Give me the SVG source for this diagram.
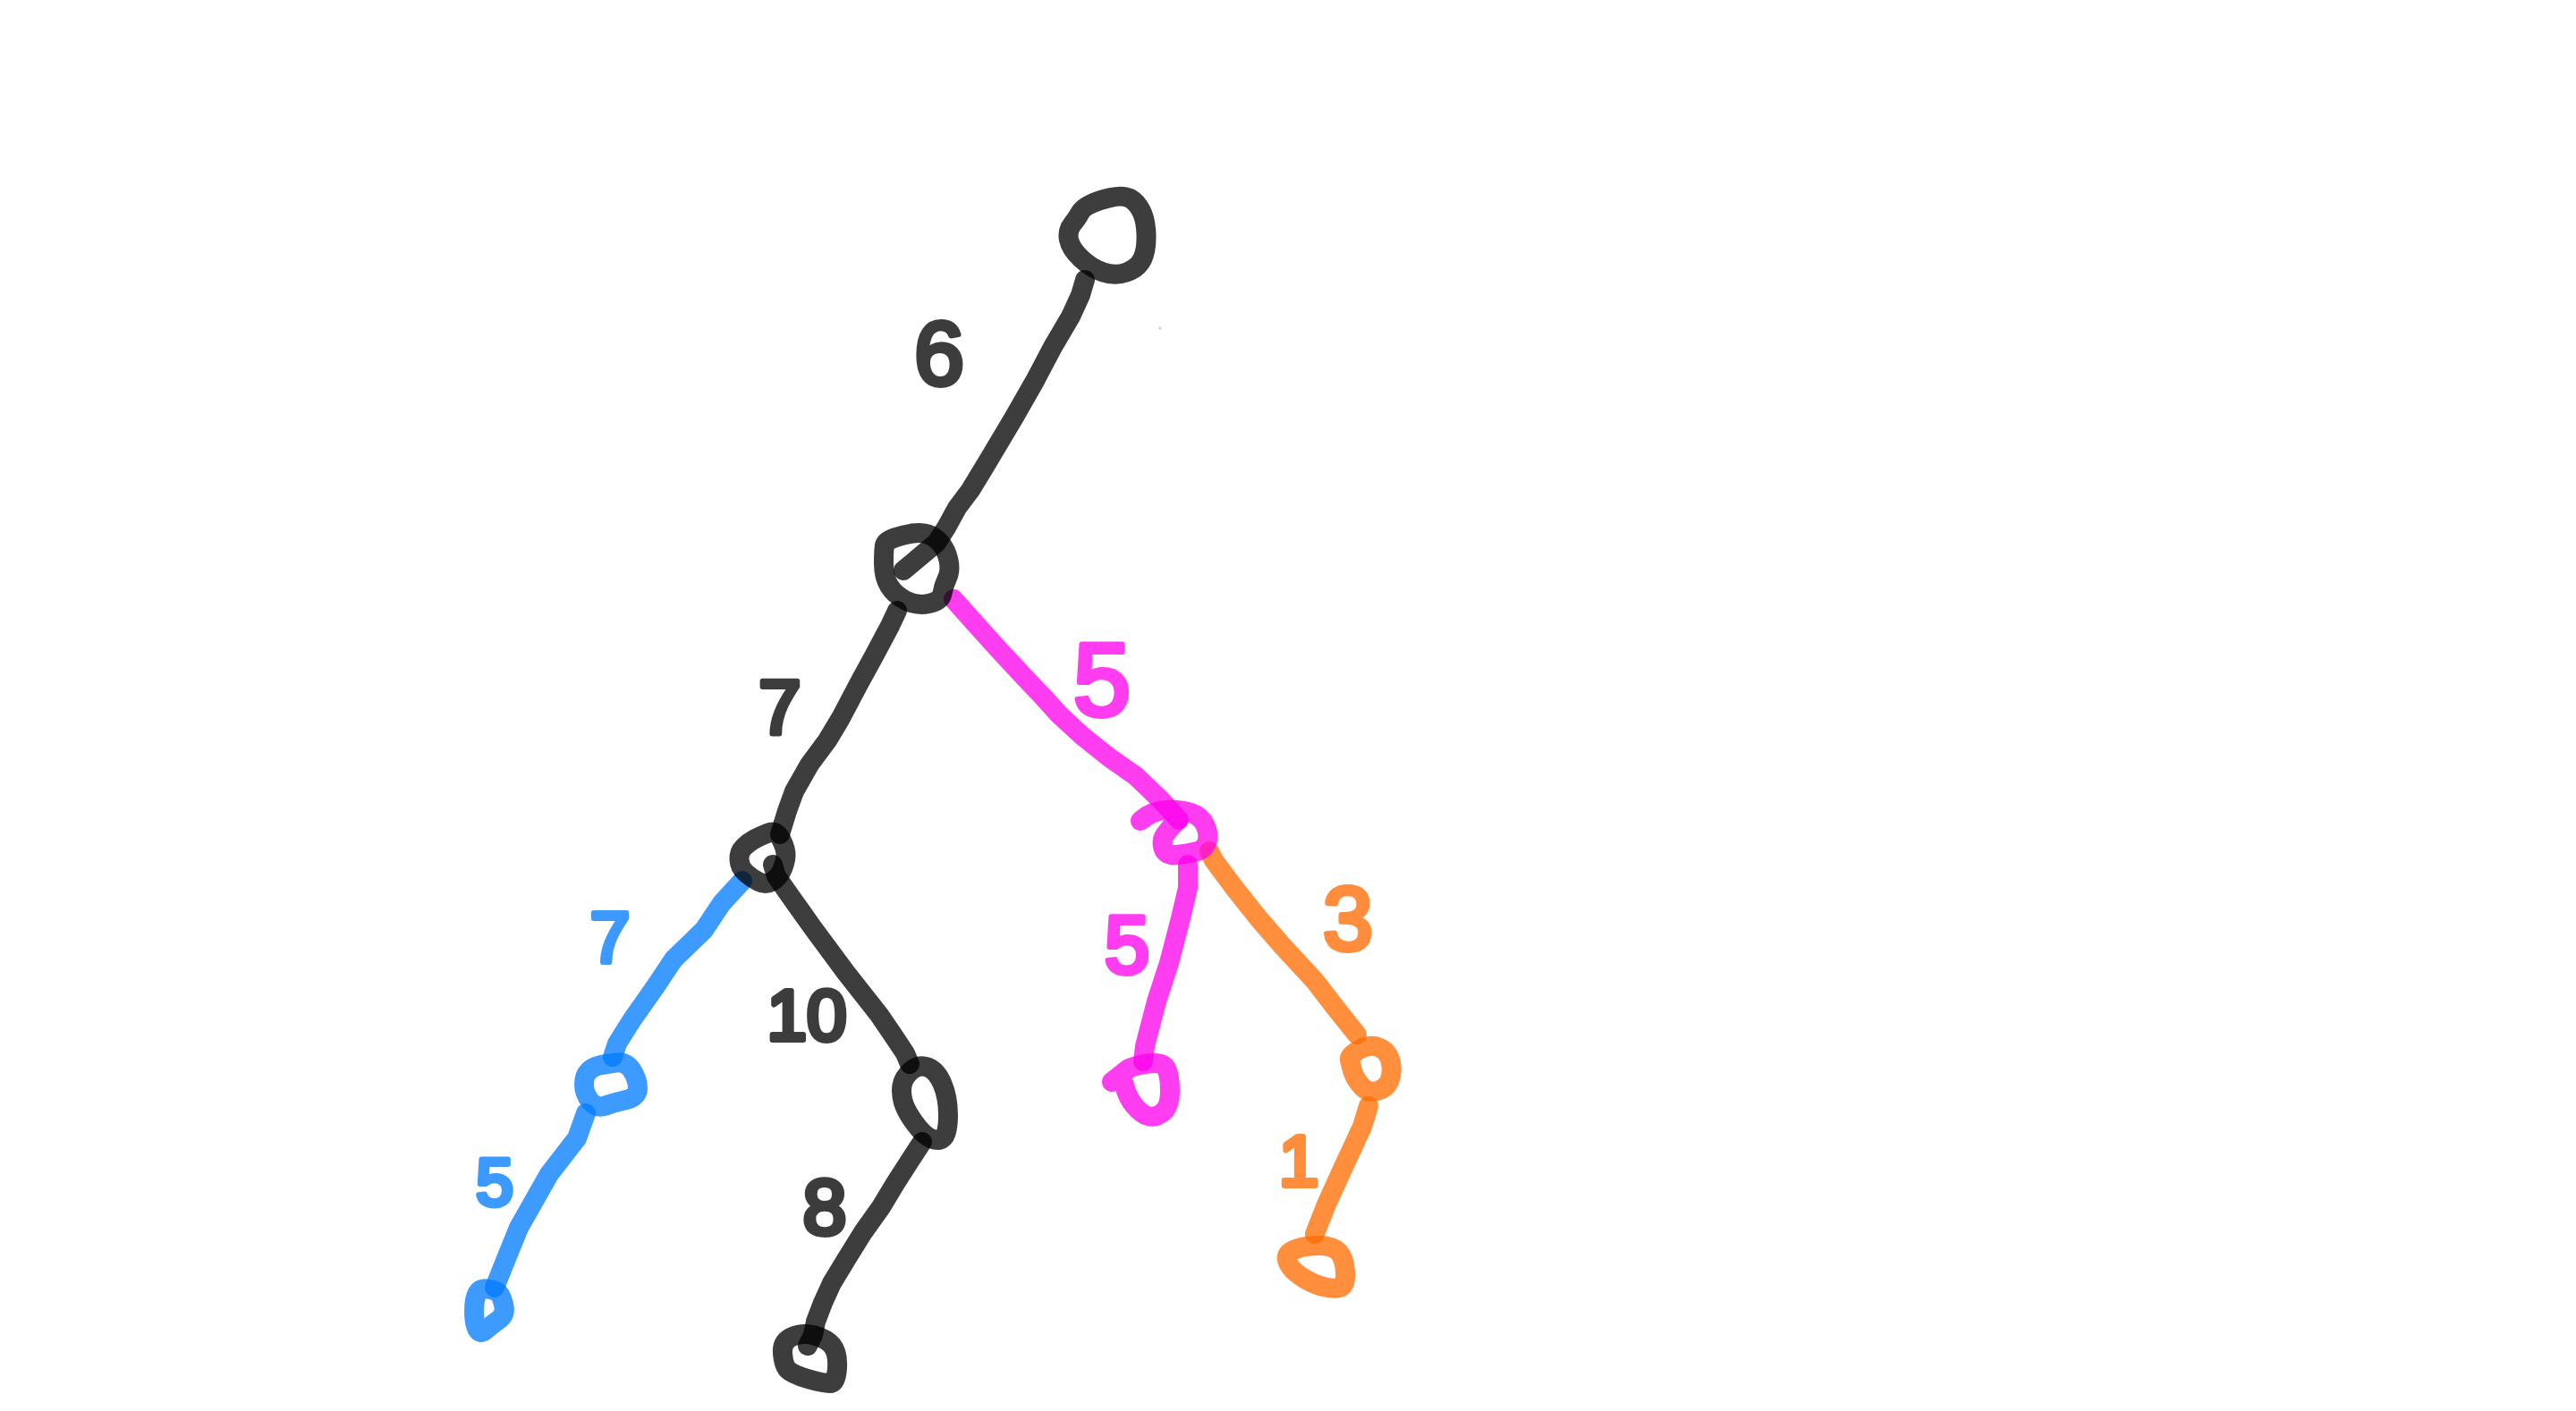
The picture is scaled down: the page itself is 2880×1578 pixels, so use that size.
<svg xmlns="http://www.w3.org/2000/svg" width="2880" height="1578" viewBox="0 0 2880 1578">
<style>
.s{fill:none;stroke-width:22;stroke-linecap:round;stroke-linejoin:round;stroke-opacity:0.76}
.k{stroke:#000}.m{stroke:#ff00eb}.b{stroke:#007aff}.o{stroke:#ff6a00}
.t{font-family:"Liberation Sans","DejaVu Sans",sans-serif;text-anchor:middle;stroke-width:6;stroke-linejoin:round;stroke-linecap:round;opacity:0.76}
.tk{fill:#000;stroke:#000}.tm{fill:#ff00eb;stroke:#ff00eb}.tb{fill:#007aff;stroke:#007aff}.to{fill:#ff6a00;stroke:#ff6a00}
</style>
<rect width="2880" height="1578" fill="#fff"/>
<g id="connectors">
<path class="s k" d="M1213,313 L1208,330 1197,354 1177,388 1157,426 1133,468 1102,520 1085,548 1070,568 1058,590 1047,607 1010,638"/>
<path class="s k" d="M1003,683 L995,700 978,732 960,765 940,803 925,828 905,855 888,885 880,907 872,933"/>
<path class="s k" d="M864,967 L868,980 882,1000 909,1038 946,1088 983,1135 1000,1160 1012,1178 1017,1190"/>
<path class="s k" d="M1031,1277 L1016,1300 1000,1325 985,1350 965,1378 947,1407 930,1435 920,1457 912,1478 909,1493 903,1505"/>
<path class="s b" d="M830,985 L807,1010 787,1040 753,1073 733,1103 707,1140 690,1167 685,1182"/>
<path class="s b" d="M655,1245 L645,1273 614,1313 580,1373 565,1410 553,1440"/>
<path class="s m" d="M1066,670 L1090,697 1118,728 1145,757 1165,778 1185,800 1210,823 1240,847 1270,868 1300,897 1318,917"/>
<path class="s m" d="M1328,967 L1328,993 1320,1027 1307,1077 1293,1120 1280,1170 1278,1187"/>
<path class="s o" d="M1352,952 L1357,962 1380,993 1407,1027 1433,1057 1470,1097 1493,1127 1517,1157"/>
<path class="s o" d="M1530,1237 L1523,1260 1503,1303 1483,1347 1470,1380"/>
</g>
<g id="node-root"><path class="s k" d="M1207.5,238 Q1210,233 1219,228.5 Q1228,224 1241.5,221 Q1255,218 1262.5,221.5 Q1270,225 1275.5,235 Q1281,245 1281.5,262.5 Q1282,280 1277,290 Q1272,300 1259.5,304.5 Q1247,309 1233.5,304.5 Q1220,300 1208.5,289 Q1197,278 1195,268 Q1193,258 1199,250.5 Q1205,243 1207.5,238 Z"/></g>
<g id="node-2"><path class="s k" d="M989,610 Q990,605 1000,601.5 Q1010,598 1020,596.5 Q1030,595 1037.5,597.5 Q1045,600 1051.5,607.5 Q1058,615 1060.5,626.5 Q1063,638 1059,646.5 Q1055,655 1053.5,663.5 Q1052,672 1038.5,675 Q1025,678 1012.5,671.5 Q1000,665 994,655 Q988,645 988,630 Q988,615 989,610 Z"/></g>
<g id="node-3"><path class="s k" d="M873.5,939 Q868,928 859,931.5 Q850,935 843.5,938.5 Q837,942 831.5,947.5 Q826,953 826.5,961.5 Q827,970 833.5,976 Q840,982 848,986 Q856,990 863,986 Q870,982 874,973.5 Q878,965 878.5,957.5 Q879,950 873.5,939 Z"/></g>
<g id="node-black-right"><path class="s k" d="M1008.5,1214 Q1010,1205 1018.5,1197.5 Q1027,1190 1037,1193.5 Q1047,1197 1053.5,1212 Q1060,1227 1060,1247 Q1060,1267 1055,1272 Q1050,1277 1041.5,1273.5 Q1033,1270 1023,1256.5 Q1013,1243 1010,1233 Q1007,1223 1008.5,1214 Z"/></g>
<g id="node-black-leaf"><path class="s k" d="M875,1513.5 Q874,1500 885.5,1495 Q897,1490 910.5,1493.5 Q924,1497 930.5,1505 Q937,1513 936,1530 Q935,1547 927.5,1547 Q920,1547 903,1542 Q886,1537 881,1532 Q876,1527 875,1513.5 Z"/></g>
<g id="node-blue"><path class="s b" d="M670,1191.5 Q677,1190 688.5,1188.5 Q700,1187 706.5,1197 Q713,1207 713,1217 Q713,1227 700,1230 Q687,1233 677,1236.5 Q667,1240 660,1231.5 Q653,1223 653,1213 Q653,1203 658,1198 Q663,1193 670,1191.5 Z"/></g>
<g id="node-blue-leaf"><path class="s b" d="M533.5,1446.5 Q537,1440 545,1441.5 Q553,1443 556.5,1445 Q560,1447 563,1458.5 Q566,1470 557.5,1476 Q549,1482 543,1487.5 Q537,1493 533.5,1486.5 Q530,1480 530,1466.5 Q530,1453 533.5,1446.5 Z"/></g>
<g id="node-magenta"><path class="s m" d="M1275,918 Q1287,907 1303.5,906 Q1320,905 1331.5,909 Q1343,913 1347.5,923 Q1352,933 1349.5,941.5 Q1347,950 1337,952.5 Q1327,955 1315,956 Q1303,957 1300.5,948.5 Q1298,940 1302.5,933.5 Q1307,927 1312,922 L1317,917"/></g>
<g id="node-magenta-leaf"><path class="s m" d="M1243,1210 L1262,1195 Q1267,1192 1283.5,1189.5 Q1300,1187 1304,1195 Q1308,1203 1308,1220 Q1308,1237 1300.5,1243.5 Q1293,1250 1285,1248.5 Q1277,1247 1268.5,1237 Q1260,1227 1257,1213"/></g>
<g id="node-orange"><path class="s o" d="M1509,1185 Q1508,1180 1520.5,1173.5 Q1533,1167 1543,1172 Q1553,1177 1555,1188.5 Q1557,1200 1553.5,1208.5 Q1550,1217 1540,1220 Q1530,1223 1522.5,1215 Q1515,1207 1512.5,1198.5 Q1510,1190 1509,1185 Z"/></g>
<g id="node-orange-leaf"><path class="s o" d="M1439,1405 Q1440,1400 1450,1396.5 Q1460,1393 1475,1393 Q1490,1393 1496.5,1400 Q1503,1407 1504,1422 Q1505,1437 1499,1439.5 Q1493,1442 1481.5,1439.5 Q1470,1437 1458.5,1430 Q1447,1423 1442.5,1416.5 Q1438,1410 1439,1405 Z"/></g>
<g id="labels">
<text class="t tk" x="1050" y="430" font-size="100">6</text>
<text class="t tk" x="872" y="820" font-size="85">7</text>
<text class="t tm" x="1232" y="800" font-size="115">5</text>
<text class="t tb" x="682" y="1076" font-size="80">7</text>
<text class="t tk" x="902" y="1163" font-size="80">10</text>
<text class="t tm" x="1260" y="1088" font-size="90">5</text>
<text class="t to" x="1507" y="1062" font-size="100">3</text>
<text class="t tb" x="553" y="1348" font-size="75">5</text>
<text class="t tk" x="922" y="1380" font-size="88">8</text>
<text class="t to" x="1452" y="1326" font-size="80">1</text>
</g>
<circle cx="1297" cy="367" r="1.5" fill="#ccc"/>
</svg>
